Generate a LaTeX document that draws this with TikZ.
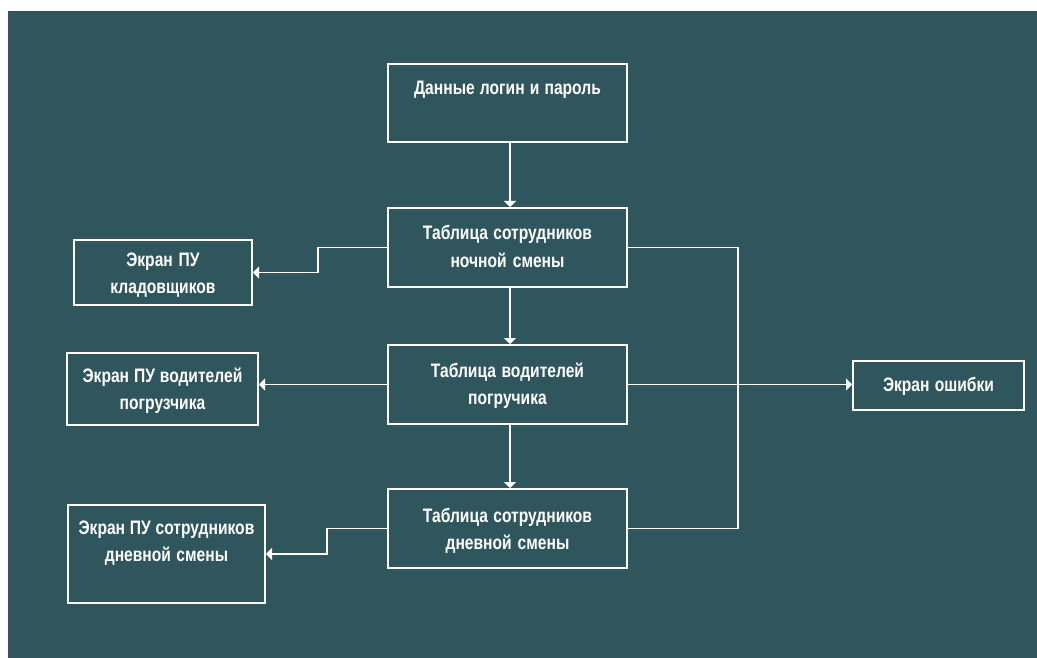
\documentclass[tikz,border=0pt]{standalone}
\usepackage{fontspec}
\setmainfont{Liberation Sans}[FakeStretch=0.8]
\usetikzlibrary{arrows.meta,calc}
\definecolor{bg}{RGB}{47,86,92}
\tikzset{
  % box given by its top-left corner; width, first-baseline offset and depth below it
  blk/.style n args={3}{draw=white, line width=2pt, inner sep=0pt, anchor=north west,
    text=white, align=center, text width=#1pt, text height=#2pt, text depth=#3pt,
    font=\fontsize{19.5}{27.5}\selectfont\bfseries,
    execute at begin node={\spaceskip=4.5pt plus 1pt\relax}},
  link/.style={draw=white, line width=1.4pt},
  arr/.style={link, -{Triangle[length=6pt,width=12pt]}}
}
\begin{document}
\begin{tikzpicture}[x=1pt,y=-1pt]
\useasboundingbox (0,0) rectangle (1037,658);
\fill[white] (0,0) rectangle (1037,658);
\fill[bg] (8,11) rectangle (1037,658);

\node[blk={239}{31}{47}] (login) at (387,63) {Данные логин и пароль};
\node[blk={239}{32}{47}] (t1) at (387,207) {Таблица сотрудников\\ночной смены};
\node[blk={239}{32}{47}] (t2) at (387,344) {Таблица водителей\\погручика};
\node[blk={239}{33}{46}] (t3) at (387,488) {Таблица сотрудников\\дневной смены};
\node[blk={178}{26}{39}] (kl) at (73,239) {Экран ПУ\\кладовщиков};
\node[blk={191}{29}{43}] (dr) at (66,352) {Экран ПУ водителей\\погрузчика};
\node[blk={197}{29}{69}] (day) at (67,504) {Экран ПУ сотрудников\\дневной смены};
\node[blk={171}{30}{19}] (err) at (852,360) {Экран ошибки};

\coordinate (xa) at (510,0);
\coordinate (bus) at (738,0);

\draw[arr] (login.south -| xa) -- (t1.north -| xa);
\draw[arr] (t1.south -| xa) -- (t2.north -| xa);
\draw[arr] (t2.south -| xa) -- (t3.north -| xa);

\draw[arr] (t1.west) -- ++(-69,0) |- (kl.east);
\draw[arr] (t2.west) -- (t2.west -| dr.east);
\draw[arr] (t3.west) -- ++(-60,0) |- (day.east);

\draw[link] (t1.east) -- (t1.east -| bus) |- (t3.east);
\draw[arr] (t2.east) -- (t2.east -| err.west);
\end{tikzpicture}
\end{document}
